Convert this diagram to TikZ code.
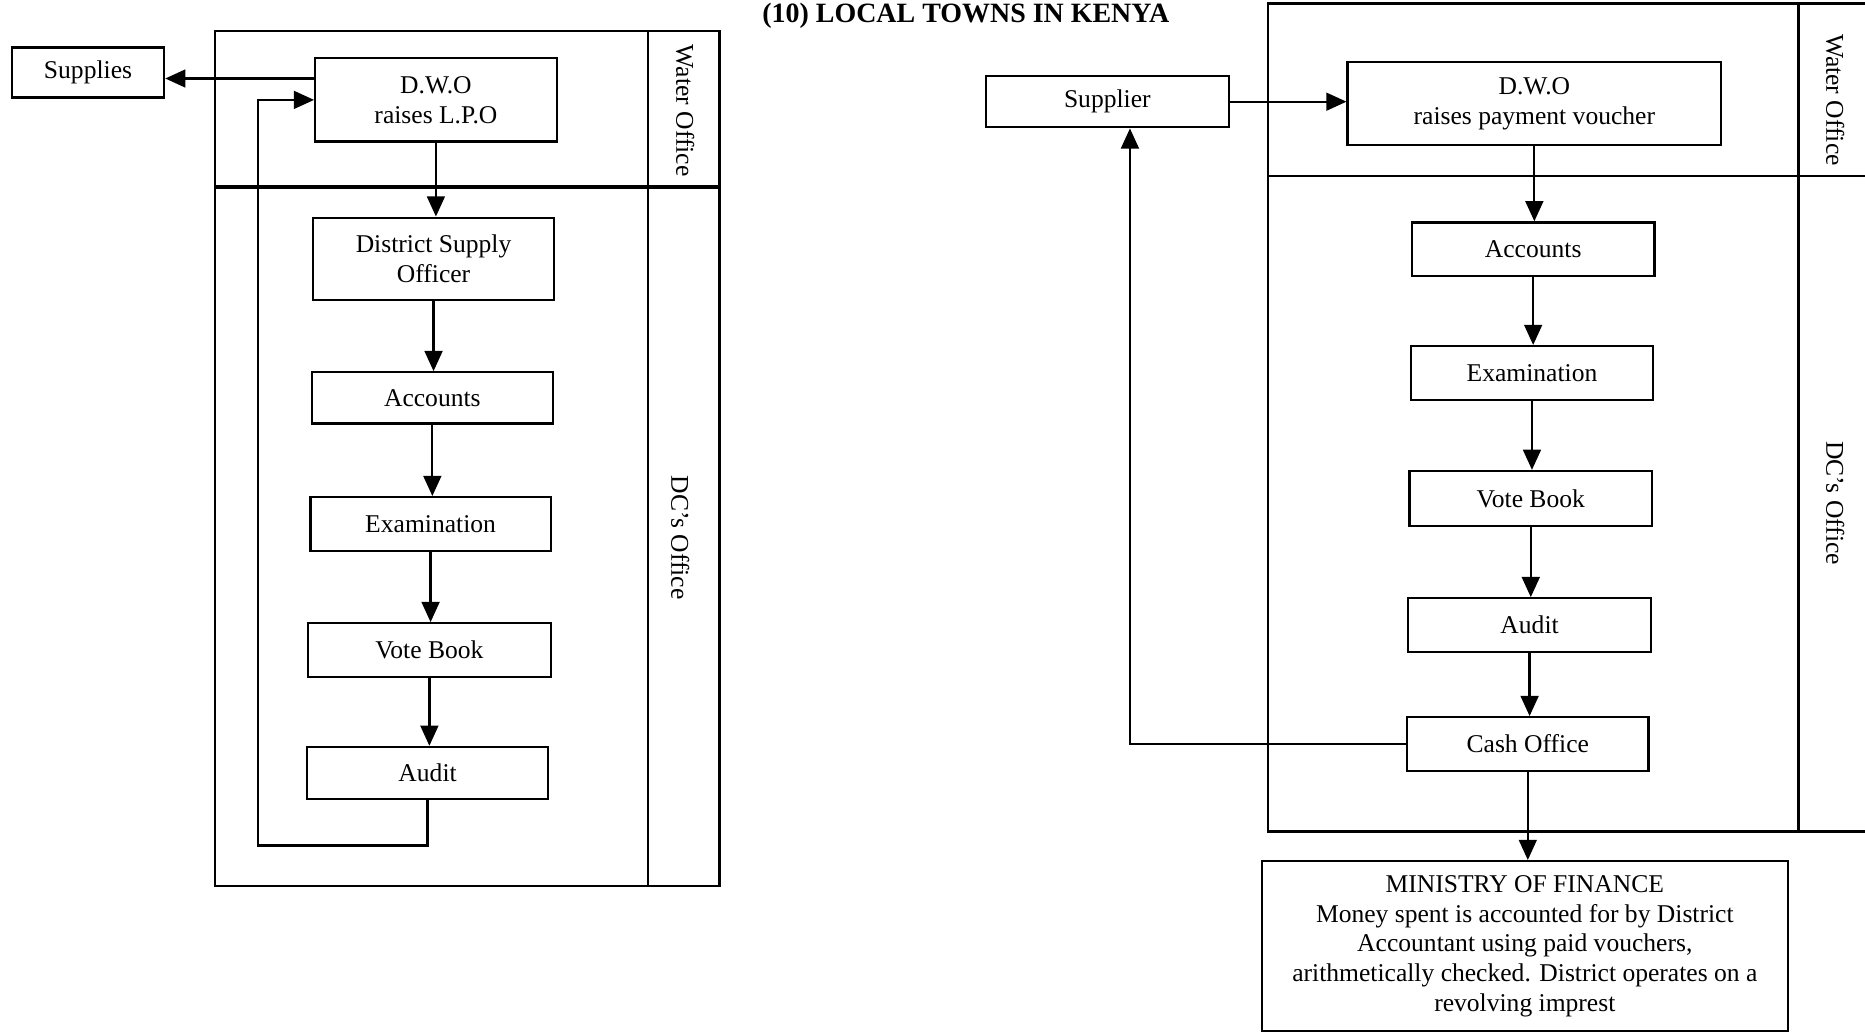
\documentclass[tikz,border=0pt]{standalone}
\usepackage{fontspec}
\setmainfont{Liberation Serif}
\usetikzlibrary{arrows.meta,calc}
\begin{document}
\begin{tikzpicture}[x=1pt,y=-1pt,
  every node/.style={font=\fontsize{21.5}{25}\selectfont},
  box/.style={draw, line width=1.9pt, inner sep=0pt, align=center},
  frame/.style={line width=1.9pt},
  arr/.style={line width=1.9pt, -{Triangle[length=17pt,width=15pt]}},
  lane/.style={rotate=-90}]
\useasboundingbox (0,0) rectangle (1568,869);
% ---------- title
\node[anchor=base, font=\fontsize{23.5}{26}\bfseries\selectfont] (title) at (812,19) {(10) LOCAL TOWNS IN KENYA};
% ---------- left diagram frame
\draw[frame] (181,26) rectangle (605,745);
\draw[frame] (545,26) -- (545,745);
\draw[line width=3pt] (181,157) -- (605,157);
\node[lane] (wol) at (576,93) {Water Office};
\node[lane] (dcl) at (572,452) {DC’s Office};
% ---------- left nodes
\node[box, minimum width=128pt, minimum height=42pt] (sup) at (74,61) {Supplies};
\node[box, minimum width=203pt, minimum height=70pt] (dwoL) at (366.5,84) {D.W.O\\raises L.P.O};
\node[box, minimum width=203pt, minimum height=69pt] (dso) at (364.5,217.5) {District Supply\\Officer};
\node[box, minimum width=203pt, minimum height=43pt] (accL) at (363.5,334.5) {Accounts};
\node[box, minimum width=202pt, minimum height=45pt] (examL) at (362,440.5) {Examination};
\node[box, minimum width=204pt, minimum height=45pt] (voteL) at (361,546.5) {Vote Book};
\node[box, minimum width=203pt, minimum height=44pt] (auditL) at (359.5,650) {Audit};
% ---------- left connectors
\draw[arr] ([yshift=18pt]dwoL.west) coordinate (a1) -- (sup.east |- a1);
\draw[arr] (dwoL.south) -- (dwoL.south |- dso.north);
\draw[arr] (dso.south) -- (dso.south |- accL.north);
\draw[arr] (accL.south) -- (accL.south |- examL.north);
\draw[arr] (examL.south) -- (examL.south |- voteL.north);
\draw[arr] (voteL.south) -- (voteL.south |- auditL.north);
\draw[arr] (auditL.south) -- ++(0,38) -| ([xshift=-47pt]dwoL.west) -- (dwoL.west);
% ---------- right diagram frame
\draw[frame] (1600,3) -- (1066,3) -- (1066,699) -- (1600,699);
\draw[frame] (1512,3) -- (1512,699);
\draw[line width=2.4pt] (1066,148) -- (1600,148);
\node[lane] (wor) at (1543,84) {Water Office};
\node[lane] (dcr) at (1543,423) {DC’s Office};
% ---------- right nodes
\node[box, minimum width=204pt, minimum height=43pt] (supR) at (931,85.5) {Supplier};
\node[box, minimum width=314pt, minimum height=70pt] (dwoR) at (1290,87) {D.W.O\\raises payment voucher};
\node[box, minimum width=204pt, minimum height=45pt] (accR) at (1289,209.5) {Accounts};
\node[box, minimum width=204pt, minimum height=45pt] (examR) at (1288,313.5) {Examination};
\node[box, minimum width=204pt, minimum height=46pt] (voteR) at (1287,419) {Vote Book};
\node[box, minimum width=204pt, minimum height=45pt] (auditR) at (1286,525.5) {Audit};
\node[box, minimum width=203pt, minimum height=45pt] (cash) at (1284.5,625.5) {Cash Office};
\node[box, minimum width=442pt, minimum height=143pt, font=\fontsize{21.5}{25}\selectfont] (mof) at (1282,795.5)
  {MINISTRY OF FINANCE\\Money spent is accounted for by District\\Accountant using paid vouchers,\\arithmetically checked. District operates on a\\revolving imprest};
% ---------- right connectors
\draw[arr] (supR.east) -- (dwoR.west |- supR.east);
\draw[arr] (dwoR.south) -- (dwoR.south |- accR.north);
\draw[arr] (accR.south) -- (accR.south |- examR.north);
\draw[arr] (examR.south) -- (examR.south |- voteR.north);
\draw[arr] (voteR.south) -- (voteR.south |- auditR.north);
\draw[arr] (auditR.south) -- (auditR.south |- cash.north);
\draw[arr] (cash.west) -| ([xshift=19pt]supR.south);
\draw[arr] (cash.south) -- (cash.south |- mof.north);
\end{tikzpicture}
\end{document}
